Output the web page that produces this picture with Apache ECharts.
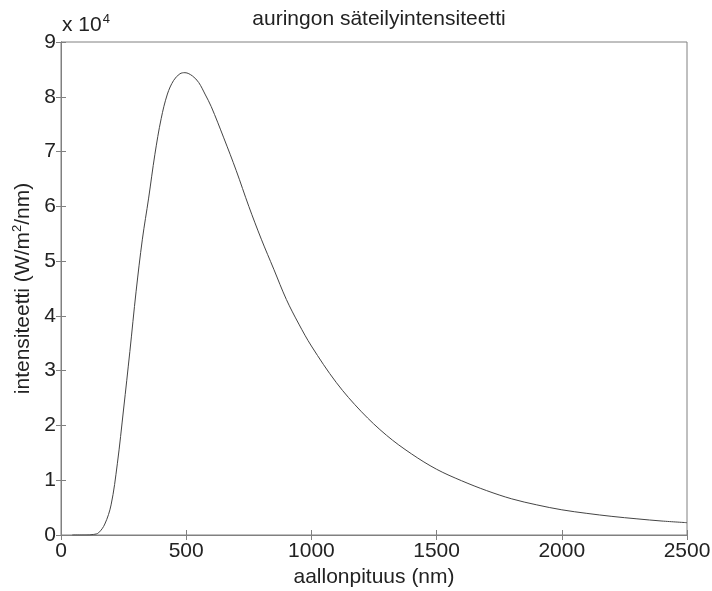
<!DOCTYPE html>
<html>
<head>
<meta charset="utf-8">
<title>auringon säteilyintensiteetti</title>
<script src="https://cdn.jsdelivr.net/npm/echarts@6/dist/echarts.min.js"></script>
<style>
	* {
		margin: 0;
		padding: 0;
		box-sizing: border-box;
	}

	body {
		background: #fff;
	}

	#chart {
		width: 712px;
		height: 591px;
	}
</style>
</head>
<body>
<div id="chart"></div>
<script>
	// aallonpituus (nm) ja intensiteetti (W/m2/nm), luettu kuvasta
	var wavelength = [45, 100, 130, 150, 175, 200, 225, 250, 275, 300, 325, 350, 375, 400, 425, 450, 475, 495,
		525, 550, 575, 600, 650, 700, 750, 800, 850, 900, 950, 1000, 1100, 1200, 1300, 1400, 1500,
		1600, 1700, 1800, 1900, 2000, 2100, 2200, 2300, 2400, 2500];
	var intensity = [0, 0, 100, 400, 2000, 5500, 13000, 23000, 33500, 44500, 54000, 61500, 69500, 76000, 80500, 83000, 84200, 84400,
		83800, 82600, 80500, 78200, 72500, 66500, 60000, 54000, 48500, 43000, 38500, 34500, 27800, 22500, 18200, 14800, 12000,
		9900, 8100, 6600, 5500, 4600, 3950, 3400, 2950, 2550, 2250];

	var xTicks = [0, 500, 1000, 1500, 2000, 2500];
	var yTicks = [0, 1, 2, 3, 4, 5, 6, 7, 8, 9]; // x 10^4

	var font = 'Liberation Sans, Arial, sans-serif';
	var axisGray = '#808080';

	var pts = [];
	for (var i = 0; i < wavelength.length; i++) {
		pts.push([wavelength[i], intensity[i]]);
	}

	var chart = echarts.init(document.getElementById('chart'));
	var options = {
		animation: false,
		backgroundColor: '#fff',
		title: {
			text: 'auringon säteilyintensiteetti',
			left: 374,
			textAlign: 'center',
			top: 4,
			textStyle: {
				fontFamily: font,
				fontSize: 21,
				fontWeight: 'normal',
				color: '#222'
			}
		},
		grid: {
			left: 61,
			right: 25,
			top: 42,
			bottom: 56,
			show: true,
			borderColor: axisGray,
			borderWidth: 1,
			containLabel: false,
			outerBoundsMode: 'none'
		},
		graphic: [{
			type: 'text',
			left: 62,
			top: 13,
			style: {
				text: '{b|x 10}{s|4}',
				rich: {
					b: {
						fontFamily: font,
						fontSize: 21,
						fill: '#222',
						verticalAlign: 'bottom'
					},
					s: {
						fontFamily: font,
						fontSize: 13,
						fill: '#222',
						verticalAlign: 'top',
						padding: [0, 0, 10, 1]
					}
				}
			}
		}],
		xAxis: [{
			type: 'value',
			min: 0,
			max: 2500,
			interval: 500,
			position: 'bottom',
			name: 'aallonpituus (nm)',
			nameLocation: 'middle',
			nameGap: 32,
			nameTextStyle: {
				fontFamily: font,
				fontSize: 21,
				color: '#222'
			},
			axisLine: { show: true, lineStyle: { color: axisGray } },
			axisTick: { show: true, inside: true, length: 5, lineStyle: { color: axisGray } },
			axisLabel: {
				margin: 6,
				fontFamily: font,
				fontSize: 21,
				color: '#222',
				formatter: function(v) {
					return xTicks.indexOf(v) >= 0 ? String(v) : '';
				}
			},
			splitLine: { show: false }
		}, {
			// yläreunan tikit
			type: 'value',
			min: 0,
			max: 2500,
			interval: 500,
			position: 'top',
			axisLine: { show: true, lineStyle: { color: axisGray } },
			axisTick: { show: true, inside: true, length: 5, lineStyle: { color: axisGray } },
			axisLabel: { show: false },
			splitLine: { show: false }
		}],
		yAxis: [{
			type: 'value',
			min: 0,
			max: 90000,
			interval: 10000,
			position: 'left',
			name: 'intensiteetti (W/m{sup|2}/nm)',
			nameLocation: 'middle',
			nameGap: 25,
			nameTextStyle: {
				fontFamily: font,
				fontSize: 21,
				color: '#222',
				rich: {
					sup: {
						fontFamily: font,
						fontSize: 13,
						color: '#222',
						verticalAlign: 'top',
						padding: [0, 0, 10, 0]
					}
				}
			},
			axisLine: { show: true, lineStyle: { color: axisGray } },
			axisTick: { show: true, inside: true, length: 5, lineStyle: { color: axisGray } },
			axisLabel: {
				margin: 5,
				fontFamily: font,
				fontSize: 21,
				color: '#222',
				formatter: function(v) {
					var t = v / 10000;
					return yTicks.indexOf(t) >= 0 ? String(t) : '';
				}
			},
			splitLine: { show: false }
		}, {
			// oikean reunan tikit
			type: 'value',
			min: 0,
			max: 90000,
			interval: 10000,
			position: 'right',
			axisLine: { show: true, lineStyle: { color: axisGray } },
			axisTick: { show: true, inside: true, length: 5, lineStyle: { color: axisGray } },
			axisLabel: { show: false },
			splitLine: { show: false }
		}],
		series: [{
			name: 'intensiteetti',
			type: 'line',
			data: pts,
			xAxisIndex: 0,
			yAxisIndex: 0,
			showSymbol: false,
			smooth: 0.35,
			lineStyle: {
				color: '#444',
				width: 1
			}
		}]
	};
	chart.setOption(options);
</script>
</body>
</html>
